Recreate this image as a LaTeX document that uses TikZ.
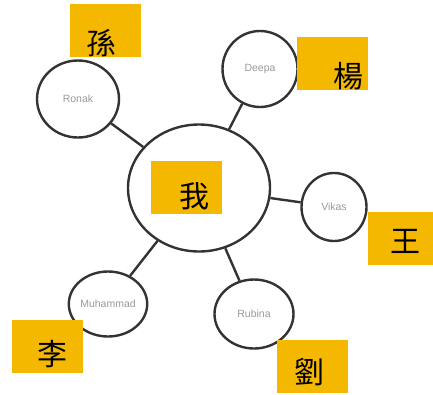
\documentclass[tikz,border=0pt]{standalone}
\usepackage{fontspec}
\usepackage{tikz}
\usetikzlibrary{shapes.geometric}
\setsansfont{Liberation Sans}
\newfontfamily\cjk{Noto Sans CJK TC}
\definecolor{tagorange}{HTML}{F5B800}

\begin{document}
\begin{tikzpicture}[x=1pt,y=-1pt,
    friend/.style={draw=black!80,line width=2.4pt,ellipse,inner sep=0pt,
        font=\sffamily\fontsize{10.5}{10.5}\selectfont,text=black!40},
    link/.style={line width=2.4pt,black!80},
    tagbox/.style={fill=tagorange,inner sep=0pt,minimum height=53pt},
    tagtext/.style={font=\cjk\fontsize{30}{30}\selectfont,inner sep=0pt}]
    \useasboundingbox (0,0) rectangle (433,394);

    % the circles
    \node[friend,minimum width=142pt,minimum height=127pt] (me) at (199,188) {};
    \node[friend,minimum width=82pt,minimum height=77pt] (ronak) at (78,99) {Ronak};
    \node[friend,minimum width=75pt,minimum height=76pt] (deepa) at (260,69) {Deepa};
    \node[friend,minimum width=65pt,minimum height=68pt] (vikas) at (334,207) {Vikas};
    \node[friend,minimum width=78pt,minimum height=65pt] (muhammad) at (108,304) {Muhammad};
    \node[friend,minimum width=79pt,minimum height=69pt] (rubina) at (254,314) {Rubina};

    \draw [link] (ronak) -- (me);
    \draw [link] (deepa) -- (me);
    \draw [link] (vikas) -- (me);
    \draw [link] (muhammad) -- (me);
    \draw [link] (rubina) -- (me);

    % the name tags
    \node[tagbox,minimum width=71pt] (sunbox) at (105.5,30.5) {};
    \node[tagbox,minimum width=71pt] (yangbox) at (332.5,63.5) {};
    \node[tagbox,minimum width=71pt] (wobox) at (186.5,187.5) {};
    \node[tagbox,minimum width=65pt] (wangbox) at (400.5,238.5) {};
    \node[tagbox,minimum width=71pt] (libox) at (47.5,346.5) {};
    \node[tagbox,minimum width=71pt] (liubox) at (312.5,366.5) {};

    \node[tagtext] (sun) at (101,43) {孫};
    \node[tagtext] (yang) at (348,76) {楊};
    \node[tagtext] (wo) at (194,196) {我};
    \node[tagtext] (wang) at (405,241) {王};
    \node[tagtext] (li) at (52,354) {李};
    \node[tagtext] (liu) at (309,372) {劉};
\end{tikzpicture}
\end{document}
